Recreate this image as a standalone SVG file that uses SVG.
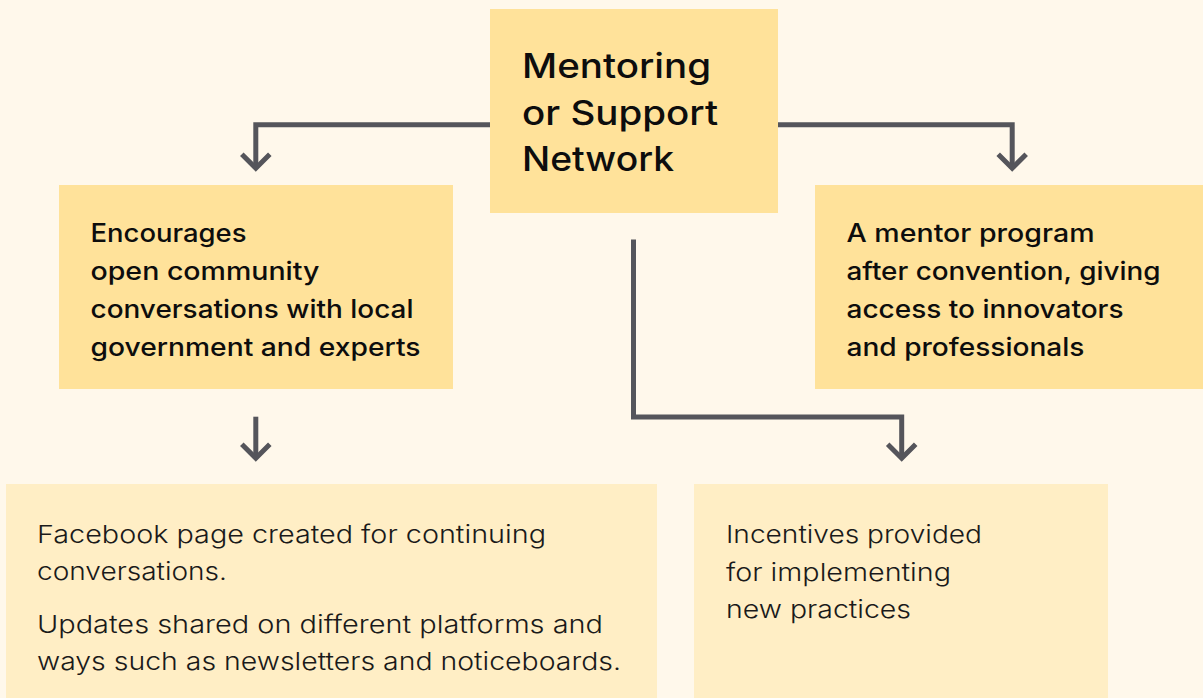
<svg xmlns="http://www.w3.org/2000/svg" width="1203" height="698" viewBox="0 0 1203 698">
  <defs>
    <style>
      .bg { fill: #FFF8EB; }
      .box-main { fill: #FFE29A; }
      .box-light { fill: #FFEEC5; }
      .title { font-family: Inter, "Liberation Sans", sans-serif; font-weight: 500; font-size: 34px; fill: #0d0d0d; }
      .head { font-family: Inter, "Liberation Sans", sans-serif; font-weight: 500; font-size: 25px; fill: #0d0d0d; }
      .body { font-family: Inter, "Liberation Sans", sans-serif; font-weight: 300; font-size: 24.5px; fill: #1a1a1a; }
      .wire { fill: none; stroke: #55555B; stroke-width: 5; stroke-linejoin: miter; stroke-linecap: butt; }
    </style>
  </defs>

  <rect class="bg" x="0" y="0" width="1203" height="698"/>

  <!-- connectors -->
  <g id="connectors">
    <path class="wire" d="M490,124.8 H255.8 V168"/>
    <polyline class="wire" points="241.8,154.2 255.8,168.2 269.8,154.2"/>

    <path class="wire" d="M778,124.8 H1012.2 V168"/>
    <polyline class="wire" points="998.2,154.2 1012.2,168.2 1026.2,154.2"/>

    <path class="wire" d="M633.5,239.5 V417 H901.7 V458"/>
    <polyline class="wire" points="887.7,444.2 901.7,458.2 915.7,444.2"/>

    <path class="wire" d="M255.8,416.7 V458"/>
    <polyline class="wire" points="241.8,444.2 255.8,458.2 269.8,444.2"/>
  </g>

  <!-- central topic -->
  <g id="node-mentoring">
    <rect class="box-main" x="490" y="9" width="288" height="204"/>
    <text class="title" x="522" y="77.5" textLength="189" lengthAdjust="spacingAndGlyphs">Mentoring</text>
    <text class="title" x="522" y="124.5" textLength="196" lengthAdjust="spacingAndGlyphs">or Support</text>
    <text class="title" x="522" y="171" textLength="152" lengthAdjust="spacingAndGlyphs">Network</text>
  </g>

  <!-- left branch -->
  <g id="node-conversations">
    <rect class="box-main" x="59" y="185" width="394" height="204"/>
    <text class="head" x="90.5" y="242.3" textLength="156" lengthAdjust="spacingAndGlyphs">Encourages</text>
    <text class="head" x="90.5" y="280" textLength="229" lengthAdjust="spacingAndGlyphs">open community</text>
    <text class="head" x="90.5" y="317.8" textLength="323" lengthAdjust="spacingAndGlyphs">conversations with local</text>
    <text class="head" x="90.5" y="355.6" textLength="330" lengthAdjust="spacingAndGlyphs">government and experts</text>
  </g>

  <!-- right branch -->
  <g id="node-mentor-program">
    <rect class="box-main" x="815" y="185" width="388" height="204"/>
    <text class="head" x="846.5" y="242.3" textLength="248" lengthAdjust="spacingAndGlyphs">A mentor program</text>
    <text class="head" x="846.5" y="280" textLength="314" lengthAdjust="spacingAndGlyphs">after convention, giving</text>
    <text class="head" x="846.5" y="317.8" textLength="277" lengthAdjust="spacingAndGlyphs">access to innovators</text>
    <text class="head" x="846.5" y="355.6" textLength="238" lengthAdjust="spacingAndGlyphs">and professionals</text>
  </g>

  <!-- outcomes of the conversations -->
  <g id="node-facebook">
    <rect class="box-light" x="6" y="484" width="651" height="214"/>
    <text class="body" x="37" y="542.7" textLength="509" lengthAdjust="spacingAndGlyphs">Facebook page created for continuing</text>
    <text class="body" x="37" y="580" textLength="190" lengthAdjust="spacingAndGlyphs">conversations.</text>
    <text class="body" x="37" y="633" textLength="566" lengthAdjust="spacingAndGlyphs">Updates shared on different platforms and</text>
    <text class="body" x="37" y="670" textLength="584" lengthAdjust="spacingAndGlyphs">ways such as newsletters and noticeboards.</text>
  </g>

  <!-- outcomes of the network -->
  <g id="node-incentives">
    <rect class="box-light" x="694" y="484" width="414" height="214"/>
    <text class="body" x="726" y="543.3" textLength="256" lengthAdjust="spacingAndGlyphs">Incentives provided</text>
    <text class="body" x="726" y="581" textLength="225" lengthAdjust="spacingAndGlyphs">for implementing</text>
    <text class="body" x="726" y="618.3" textLength="185" lengthAdjust="spacingAndGlyphs">new practices</text>
  </g>
</svg>
